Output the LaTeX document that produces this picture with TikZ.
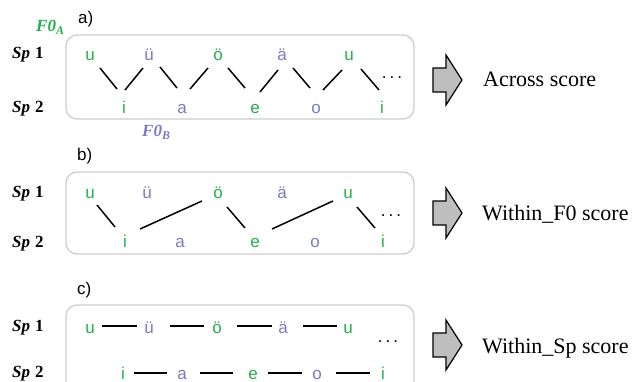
\documentclass[tikz,border=0pt]{standalone}
\usepackage{fontspec}
\setmainfont{Liberation Serif}
\newfontfamily\lsans{Liberation Sans}
\definecolor{vgreen}{RGB}{35,175,75}
\definecolor{vpurple}{RGB}{122,122,196}
\definecolor{boxgray}{RGB}{205,205,205}
\definecolor{arrowgray}{RGB}{190,190,190}
\begin{document}
\begin{tikzpicture}[x=1pt,y=-1pt,
  vow/.style={inner sep=0pt, text height=12pt, text depth=0pt, font=\lsans\fontsize{17}{17}\selectfont},
  gv/.style={vow,text=vgreen},
  pv/.style={vow,text=vpurple},
  conn/.style={line width=1.5pt, draw=black},
  panel/.style={draw=boxgray, line width=1.3pt, rounded corners=11pt},
  blockarrow/.style={draw=black, line width=1.2pt, fill=arrowgray, line join=miter},
  sp/.style={anchor=base west, inner sep=0pt, font=\fontsize{17}{17}\selectfont},
  fzero/.style={anchor=base west, inner sep=0pt, font=\fontsize{17}{17}\selectfont\bfseries\itshape},
  score/.style={anchor=base west, inner sep=0pt, font=\fontsize{22}{22}\selectfont},
  plabel/.style={anchor=west, inner sep=0pt, font=\lsans\fontsize{17}{17}\selectfont},
  dotsnode/.style={anchor=base, inner sep=0pt, font=\lsans\fontsize{17}{17}\selectfont}
]
\path[use as bounding box] (0,0) rectangle (634,382);
\clip (0,0) rectangle (634,382);

% ---------- panel a ----------
\node[plabel] (la) at (78,19) {a)};
\node[fzero, text=vgreen] (f0a) at (36,32) {F0\textsubscript{A}};
\node[fzero, text=vpurple] (f0b) at (142,137) {F0\textsubscript{B}};
\draw[panel] (66,35) rectangle (414,119);
\node[sp] (sa1) at (12,59) {{\bfseries\itshape Sp}\hspace{5pt}{\bfseries 1}};
\node[sp] (sa2) at (12,113) {{\bfseries\itshape Sp}\hspace{5pt}{\bfseries 2}};
\node[gv] (a1) at (90,55) {u};
\node[pv] (a2) at (149,55) {ü};
\node[gv] (a3) at (218,55) {ö};
\node[pv] (a4) at (282,55) {ä};
\node[gv] (a5) at (349,55) {u};
\node[gv] (b1) at (124,108) {i};
\node[pv] (b2) at (182,108) {a};
\node[gv] (b3) at (255,108) {e};
\node[pv] (b4) at (316,108) {o};
\node[gv] (b5) at (382,108) {i};
\draw[conn] ([shift={(10,13)}]a1.center) -- ([shift={(-7,-19)}]b1.center);
\draw[conn] ([shift={(1,-18)}]b1.center) -- ([shift={(-6,13)}]a2.center);
\draw[conn] ([shift={(11,12)}]a2.center) -- ([shift={(-5,-20)}]b2.center);
\draw[conn] ([shift={(8,-19)}]b2.center) -- ([shift={(-10,13)}]a3.center);
\draw[conn] ([shift={(10,13)}]a3.center) -- ([shift={(-10,-20)}]b3.center);
\draw[conn] ([shift={(5,-16)}]b3.center) -- ([shift={(-4,15)}]a4.center);
\draw[conn] ([shift={(11,13)}]a4.center) -- ([shift={(-6,-20)}]b4.center);
\draw[conn] ([shift={(7,-18)}]b4.center) -- ([shift={(-7,15)}]a5.center);
\draw[conn] ([shift={(12,14)}]a5.center) -- ([shift={(-3,-18)}]b5.center);
\node[dotsnode] (da) at (392,78.5) {.\hspace{3pt}.\hspace{3pt}.};
\draw[blockarrow] (433,68) -- (446,68) -- (446,55) -- (462,80) -- (446,105) -- (446,92) -- (433,92) -- cycle;
\node[score] (ta) at (483,87) {Across score};

% ---------- panel b ----------
\node[plabel] (lb) at (77,156) {b)};
\draw[panel] (66,172) rectangle (414,254);
\node[sp] (sb1) at (12,197) {{\bfseries\itshape Sp}\hspace{5pt}{\bfseries 1}};
\node[sp] (sb2) at (12,247) {{\bfseries\itshape Sp}\hspace{5pt}{\bfseries 2}};
\node[gv] (c1) at (90,192) {u};
\node[pv] (c2) at (147,192) {ü};
\node[gv] (c3) at (218,192) {ö};
\node[pv] (c4) at (282,192) {ä};
\node[gv] (c5) at (348,192) {u};
\node[gv] (d1) at (125,241) {i};
\node[pv] (d2) at (180,241) {a};
\node[gv] (d3) at (255,241) {e};
\node[pv] (d4) at (315,241) {o};
\node[gv] (d5) at (383,241) {i};
\draw[conn] ([shift={(7,13)}]c1.center) -- ([shift={(-10,-14)}]d1.center);
\draw[conn] ([shift={(15,-12)}]d1.center) -- ([shift={(-16,9)}]c3.center);
\draw[conn] ([shift={(9,15)}]c3.center) -- ([shift={(-10,-13)}]d3.center);
\draw[conn] ([shift={(17,-12)}]d3.center) -- ([shift={(-15,9)}]c5.center);
\draw[conn] ([shift={(9,15)}]c5.center) -- ([shift={(-8,-13)}]d5.center);
\node[dotsnode] (db) at (391,216.5) {.\hspace{3pt}.\hspace{3pt}.};
\draw[blockarrow] (433,201) -- (446,201) -- (446,188) -- (462,213) -- (446,238) -- (446,225) -- (433,225) -- cycle;
\node[score] (tb) at (482,220) {Within\_F0 score};

% ---------- panel c ----------
\node[plabel] (lc) at (77,290) {c)};
\draw[panel] (66,305) rectangle (414,395);
\node[sp] (sc1) at (12,331) {{\bfseries\itshape Sp}\hspace{5pt}{\bfseries 1}};
\node[sp] (sc2) at (12,377) {{\bfseries\itshape Sp}\hspace{5pt}{\bfseries 2}};
\node[gv] (e1) at (90,327) {u};
\node[pv] (e2) at (149,327) {ü};
\node[gv] (e3) at (217,327) {ö};
\node[pv] (e4) at (283,327) {ä};
\node[gv] (e5) at (348,327) {u};
\node[gv] (f1) at (123,373) {i};
\node[pv] (f2) at (182,373) {a};
\node[gv] (f3) at (253,373) {e};
\node[pv] (f4) at (317,373) {o};
\node[gv] (f5) at (383,373) {i};
\draw[conn] ([shift={(12,-1)}]e1.center) -- ([shift={(-12,-1)}]e2.center);
\draw[conn] ([shift={(21,-1)}]e2.center) -- ([shift={(-13,-1)}]e3.center);
\draw[conn] ([shift={(20,-1)}]e3.center) -- ([shift={(-11,-1)}]e4.center);
\draw[conn] ([shift={(20,-1)}]e4.center) -- ([shift={(-11,-1)}]e5.center);
\draw[conn] ([shift={(11,0)}]f1.center) -- ([shift={(-15,0)}]f2.center);
\draw[conn] ([shift={(18,0)}]f2.center) -- ([shift={(-20,0)}]f3.center);
\draw[conn] ([shift={(15,0)}]f3.center) -- ([shift={(-15,0)}]f4.center);
\draw[conn] ([shift={(19,0)}]f4.center) -- ([shift={(-13,0)}]f5.center);
\node[dotsnode] (dc) at (388,342.5) {.\hspace{3pt}.\hspace{3pt}.};
\draw[blockarrow] (433,333) -- (446,333) -- (446,320) -- (462,345) -- (446,370) -- (446,357) -- (433,357) -- cycle;
\node[score] (tc) at (482,353) {Within\_Sp score};
\end{tikzpicture}
\end{document}
